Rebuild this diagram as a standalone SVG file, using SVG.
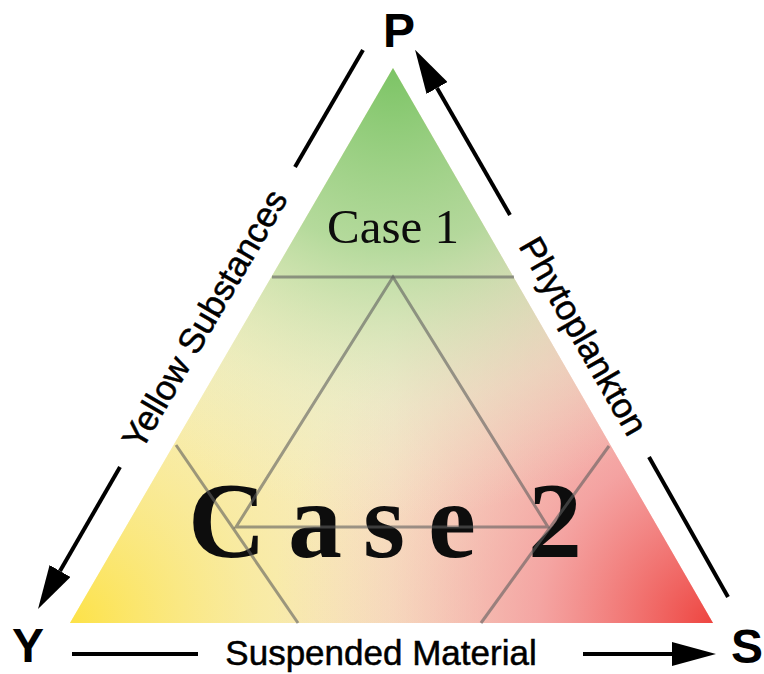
<svg xmlns="http://www.w3.org/2000/svg" width="764" height="674" viewBox="0 0 764 674">
  <defs>
    <style>
      .lbl { font-family: "Liberation Sans", Arial, sans-serif; fill: #000; stroke: #000; stroke-width: 0.5; }
      .vtx { font-family: "Liberation Sans", Arial, sans-serif; font-weight: bold; font-size: 48px; fill: #000; text-anchor: middle; }
      .side { font-size: 35px; text-anchor: middle; }
      .arrow { stroke: #000; stroke-width: 4; fill: none; }
      .grid { stroke: #5e5e5e; stroke-opacity: 0.6; stroke-width: 3; fill: none; }
      .serif { font-family: "Liberation Serif", "Times New Roman", serif; fill: #0d0d0d; }
    </style>
    <marker id="head" markerUnits="userSpaceOnUse" markerWidth="44" markerHeight="24" viewBox="0 0 44 24" refX="0" refY="12" orient="auto">
      <path d="M0,0 L44,12 L0,24 z" fill="#000"/>
    </marker>
    <clipPath id="tri">
      <polygon points="393,68 70,623 713,623"/>
    </clipPath>
    <radialGradient id="gYel" gradientUnits="userSpaceOnUse" cx="70" cy="623" r="420">
      <stop offset="0" stop-color="#fde247" stop-opacity="1"/>
      <stop offset="0.45" stop-color="#f9ea94" stop-opacity="0.6"/>
      <stop offset="1" stop-color="#f8f0c8" stop-opacity="0"/>
    </radialGradient>
    <radialGradient id="gRed" gradientUnits="userSpaceOnUse" cx="713" cy="623" r="440">
      <stop offset="0" stop-color="#ee4540" stop-opacity="1"/>
      <stop offset="0.4" stop-color="#f4979a" stop-opacity="0.75"/>
      <stop offset="1" stop-color="#f6c8c0" stop-opacity="0"/>
    </radialGradient>
    <radialGradient id="gGrn" gradientUnits="userSpaceOnUse" cx="393" cy="68" r="450">
      <stop offset="0" stop-color="#7cc465" stop-opacity="1"/>
      <stop offset="0.4" stop-color="#a9d795" stop-opacity="0.85"/>
      <stop offset="0.75" stop-color="#dcedc8" stop-opacity="0.35"/>
      <stop offset="1" stop-color="#eef2d4" stop-opacity="0"/>
    </radialGradient>
    <linearGradient id="gBase" gradientUnits="userSpaceOnUse" x1="70" y1="0" x2="713" y2="0">
      <stop offset="0" stop-color="#f9eea8"/>
      <stop offset="0.5" stop-color="#f6e9c8"/>
      <stop offset="1" stop-color="#f4b4b0"/>
    </linearGradient>
  </defs>
  <rect width="764" height="674" fill="#fff"/>

  <g id="triangle" clip-path="url(#tri)">
    <rect x="60" y="60" width="660" height="570" fill="url(#gBase)"/>
    <rect x="60" y="60" width="660" height="570" fill="url(#gYel)"/>
    <rect x="60" y="60" width="660" height="570" fill="url(#gRed)"/>
    <rect x="60" y="60" width="660" height="570" fill="url(#gGrn)"/>
  </g>

  <g id="case1">
    <text class="serif" x="393" y="243" font-size="49" text-anchor="middle">Case 1</text>
  </g>
  <g id="case2" class="serif" font-size="108" font-weight="bold" text-anchor="middle">
    <text x="227" y="557">C</text>
    <text x="315" y="557">a</text>
    <text x="384" y="557">s</text>
    <text x="452" y="557">e</text>
    <text x="555" y="557">2</text>
  </g>

  <g id="grid">
    <line class="grid" x1="272" y1="277" x2="514" y2="277"/>
    <line class="grid" x1="176" y1="445" x2="298" y2="623"/>
    <line class="grid" x1="609" y1="446" x2="481" y2="623"/>
    <polygon class="grid" points="393,277 236,527 548,527"/>
  </g>

  <g id="connectors">
    <line class="arrow" x1="363" y1="50" x2="295" y2="167"/>
    <line class="arrow" x1="120" y1="467" x2="60" y2="571" marker-end="url(#head)"/>
    <line class="arrow" x1="510" y1="215" x2="437" y2="88" marker-end="url(#head)"/>
    <line class="arrow" x1="649" y1="457" x2="728" y2="597"/>
    <line class="arrow" x1="72" y1="654" x2="198" y2="654"/>
    <line class="arrow" x1="583" y1="654" x2="672" y2="654" marker-end="url(#head)"/>
  </g>

  <g id="P"><text class="vtx" x="399" y="47">P</text></g>
  <g id="Y"><text class="vtx" x="28" y="662">Y</text></g>
  <g id="S"><text class="vtx" x="747" y="663">S</text></g>

  <g id="label-yellow">
    <text class="lbl side" transform="translate(215,325) rotate(-59.8)">Yellow Substances</text>
  </g>
  <g id="label-phyto">
    <text class="lbl side" transform="translate(573,342) rotate(60.2)">Phytoplankton</text>
  </g>
  <g id="label-suspended">
    <text class="lbl" x="381" y="665" font-size="35" text-anchor="middle">Suspended Material</text>
  </g>
</svg>
